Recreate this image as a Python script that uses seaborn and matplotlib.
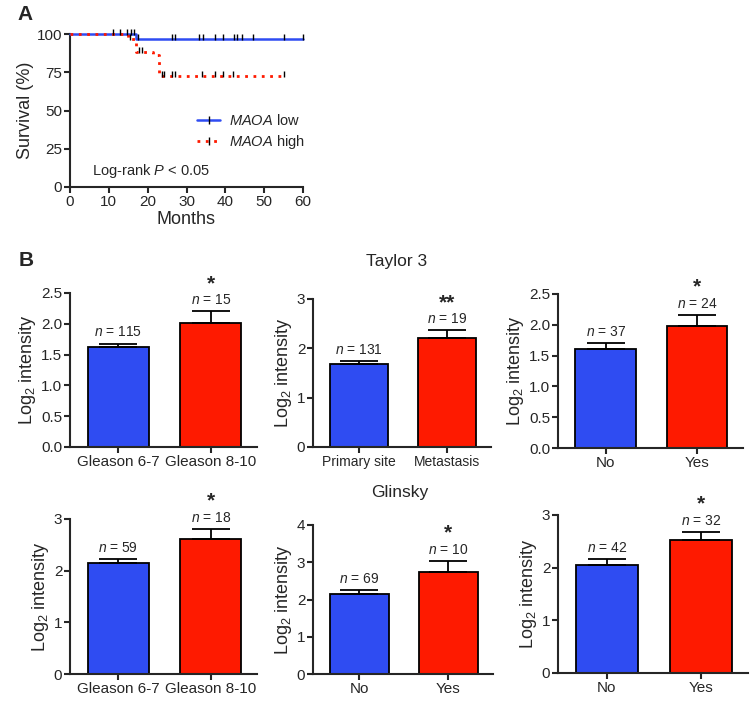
import numpy as np
import pandas as pd
import seaborn as sns
import matplotlib
matplotlib.use('Agg')
import matplotlib.pyplot as plt
from matplotlib.lines import Line2D

# --- panel A: Kaplan-Meier curves ---
low_times = [0, 17, 60]
low_surv = [100, 96.5, 96.5]
low_censor = [11, 13, 14.8, 15.8, 16.5, 17.6, 26.2, 27, 33.2, 34.2, 37.3, 39.3,
              42.3, 43.1, 44.3, 47.2, 55.2, 60]
high_times = [0, 15, 17, 21.5, 23, 55]
high_surv = [100, 96.5, 88, 86, 72.5, 72.5]
high_censor = [15.5, 17.8, 18.6, 23.6, 24.3, 26.2, 27, 33.9, 37.3, 39.3, 42.1, 55.2]

# --- panel B: bar charts (mean, SEM, n, significance) ---
groups_gleason = ['Gleason 6-7', 'Gleason 8-10']
groups_met = ['Primary site', 'Metastasis']
groups_yesno = ['No', 'Yes']

taylor_means = [[1.63, 2.01], [1.68, 2.21], [1.60, 1.98]]
taylor_sem = [[0.05, 0.19], [0.06, 0.16], [0.10, 0.18]]
taylor_n = [[115, 15], [131, 19], [37, 24]]
taylor_stars = ['*', '**', '*']

glinsky_means = [[2.14, 2.61], [2.16, 2.73], [2.05, 2.52]]
glinsky_sem = [[0.09, 0.20], [0.09, 0.31], [0.11, 0.16]]
glinsky_n = [[59, 18], [69, 10], [42, 32]]
glinsky_stars = ['*', '*', '*']

BLUE = '#2f4cf2'
RED = '#fe1a00'

sns.set_style('ticks')
plt.rcParams['font.family'] = ['Liberation Sans', 'DejaVu Sans']
plt.rcParams['mathtext.fontset'] = 'custom'
plt.rcParams['mathtext.rm'] = 'Liberation Sans'
plt.rcParams['mathtext.it'] = 'Liberation Sans:italic'
plt.rcParams['axes.linewidth'] = 1.5
plt.rcParams['xtick.major.width'] = 1.5
plt.rcParams['ytick.major.width'] = 1.5
plt.rcParams['xtick.major.size'] = 4
plt.rcParams['ytick.major.size'] = 4
plt.rcParams['xtick.major.pad'] = 2
plt.rcParams['ytick.major.pad'] = 1.5

W, H = 755, 712
fig = plt.figure(figsize=(W / 100, H / 100), dpi=100)


def px_axes(x0, x1, ytop, ybot):
    return fig.add_axes([x0 / W, 1 - ybot / H, (x1 - x0) / W, (ybot - ytop) / H])


# ---------------- panel A ----------------
ax = px_axes(70, 303, 34, 187)
ax.step(low_times, low_surv, where='post', color=BLUE, lw=1.8, clip_on=False, zorder=3)
ax.step(high_times, high_surv, where='post', color=RED, lw=2, ls=(0, (1, 2)),
        clip_on=False, zorder=4)
low_cy = [100 if t < 17 else 96.5 for t in low_censor]
high_cy = [high_surv[np.searchsorted(high_times, t, side='right') - 1] for t in high_censor]
ax.plot(low_censor, np.array(low_cy) + 1.5, ls='none', marker='|', color='black',
        ms=5, mew=1, clip_on=False, zorder=5)
ax.plot(high_censor, np.array(high_cy) + 1.5, ls='none', marker='|', color='black',
        ms=5, mew=1, clip_on=False, zorder=5)
ax.set_xlim(0, 60)
ax.set_ylim(0, 100)
ax.set_xticks([0, 10, 20, 30, 40, 50, 60])
ax.set_yticks([0, 25, 50, 75, 100])
ax.tick_params(labelsize=11)
ax.set_xlabel('Months', fontsize=13, labelpad=1)
ax.set_ylabel('Survival (%)', fontsize=13, labelpad=2)
sns.despine(ax=ax)
handles = [
    Line2D([], [], color=BLUE, lw=1.8, marker='|', mec='black', ms=6, markevery=[1]),
    Line2D([], [], color=RED, lw=2, ls=(0, (1, 2)), marker='|', mec='black', ms=6, markevery=[1]),
]
leg = ax.legend(handles, [r'$\it{MAOA}$ low', r'$\it{MAOA}$ high'], loc='center left',
                bbox_to_anchor=(0.545, 0.36), frameon=False, fontsize=10.5,
                handlelength=1.6, handletextpad=0.6, labelspacing=0.3, borderaxespad=0,
                borderpad=0)
ax.text(0.094, 0.107, r'Log-rank $\it{P}$ < 0.05', transform=ax.transAxes,
        fontsize=10.5, va='center', ha='left')

fig.text(25 / W, 1 - 15 / H, 'A', fontsize=15, fontweight='bold', ha='center', va='center')
fig.text(26 / W, 1 - 261 / H, 'B', fontsize=15, fontweight='bold', ha='center', va='center')
fig.text(397 / W, 1 - 262 / H, 'Taylor 3', fontsize=12.5, ha='center', va='center')
fig.text(400 / W, 1 - 492 / H, 'Glinsky', fontsize=12.5, ha='center', va='center')


# ---------------- panel B ----------------
def bar_panel(rect, cats, means, sems, ns, star, ylim, yticks, ytfmt):
    ax = px_axes(*rect)
    df = pd.DataFrame({'group': cats, 'value': means})
    sns.barplot(data=df, x='group', y='value', hue='group', palette=[BLUE, RED],
                width=0.66, edgecolor='black', linewidth=1.3, legend=False, ax=ax,
                saturation=1, errorbar=None)
    ax.errorbar([0, 1], means, yerr=[[0, 0], sems], fmt='none', ecolor='black',
                elinewidth=1.3, capsize=14, capthick=1.3, zorder=1)
    for i in range(2):
        top = means[i] + sems[i]
        ax.annotate(r'$\it{n}$ = %d' % ns[i], (i, top), xytext=(0, 3),
                    textcoords='offset points', ha='center', va='bottom', fontsize=10)
    top = means[1] + sems[1]
    ax.annotate(star, (1, top), xytext=(0, 13), textcoords='offset points',
                ha='center', va='bottom', fontsize=15, fontweight='bold')
    ax.set_xlim(-0.52, 1.5)
    ax.set_ylim(*ylim)
    ax.set_yticks(yticks)
    ax.set_yticklabels([ytfmt % v for v in yticks])
    ax.set_xlabel('')
    ax.set_ylabel(r'Log$_2$ intensity', fontsize=13, labelpad=2)
    fs = 10 if cats == groups_met else 11
    ax.tick_params(axis='x', labelsize=fs)
    ax.tick_params(axis='y', labelsize=11)
    sns.despine(ax=ax)
    return ax


x_spans = [(70, 257), (313, 491), (558, 743)]
x_spans2 = [(70, 257), (313, 493), (558, 748)]
cats_list = [groups_gleason, groups_met, groups_yesno]
cats_list2 = [groups_gleason, groups_yesno, groups_yesno]

row1_y = [(293, 447), (299, 447), (294, 448)]
row1_lim = [(0, 2.5), (0, 3), (0, 2.5)]
row1_ticks = [[0, 0.5, 1.0, 1.5, 2.0, 2.5], [0, 1, 2, 3], [0, 0.5, 1.0, 1.5, 2.0, 2.5]]
row1_fmt = ['%.1f', '%d', '%.1f']
for k in range(3):
    bar_panel((x_spans[k][0], x_spans[k][1], row1_y[k][0], row1_y[k][1]), cats_list[k],
              taylor_means[k], taylor_sem[k], taylor_n[k], taylor_stars[k],
              row1_lim[k], row1_ticks[k], row1_fmt[k])

row2_y = [(519, 674), (525, 674), (515, 673)]
row2_lim = [(0, 3), (0, 4), (0, 3)]
row2_ticks = [[0, 1, 2, 3], [0, 1, 2, 3, 4], [0, 1, 2, 3]]
for k in range(3):
    bar_panel((x_spans2[k][0], x_spans2[k][1], row2_y[k][0], row2_y[k][1]), cats_list2[k],
              glinsky_means[k], glinsky_sem[k], glinsky_n[k], glinsky_stars[k],
              row2_lim[k], row2_ticks[k], '%d')

fig.savefig('out.png', dpi=100)
